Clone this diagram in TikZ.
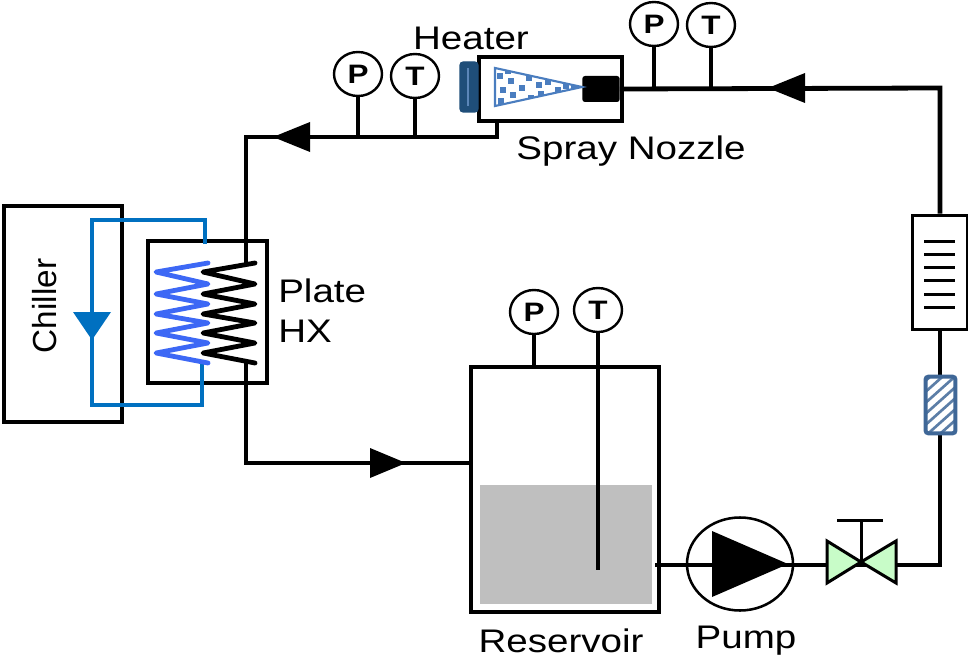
\documentclass[tikz,border=0pt]{standalone}
\usepackage{fontspec}
\setmainfont[FakeStretch=1.18]{Liberation Sans}
\newfontfamily\chillerfont{Liberation Sans}
\usetikzlibrary{arrows,shapes.geometric}
\definecolor{loopblue}{HTML}{0070C0}
\definecolor{coilblue}{HTML}{3D68F5}
\definecolor{heaterblue}{HTML}{1F4E79}
\definecolor{heaterline}{HTML}{5B86B8}
\definecolor{sprayblue}{HTML}{4A7DBF}
\definecolor{filterblue}{HTML}{3F6797}
\definecolor{valvegreen}{HTML}{C8FCC8}
\definecolor{watergray}{HTML}{BFBFBF}
\tikzset{
  pipe/.style={line width=3.6pt},
  coil/.style={line width=3.6pt,line join=round,line cap=round},
  box/.style={draw,shape=rectangle,line width=3.5pt,inner sep=0},
  gauge/.style={draw,ellipse,line width=1.8pt,fill=white,inner sep=0,minimum width=36pt,minimum height=33pt,font=\fontsize{20}{20}\selectfont\bfseries},
  label/.style={font=\fontsize{24.5}{30}\selectfont,inner sep=0},
}
\begin{document}
\begin{tikzpicture}[x=0.75pt,y=-0.75pt]
  \useasboundingbox (0,0) rectangle (968,660);

  \coordinate (c1) at (246,137);
  \coordinate (c2) at (497,137);
  \coordinate (c3) at (246,463);
  \coordinate (c4) at (472,463);
  \coordinate (c5) at (940,88);
  \coordinate (c6) at (940,565);
  \coordinate (c7) at (655,565);
  \coordinate (c8) at (246,263);
  \coordinate (c9) at (246,363);
  \coordinate (tipT) at (598,570);

  \node[shape=rectangle,fill=watergray,inner sep=0,minimum width=129pt,minimum height=89.25pt] (water) at (566,544.5) {};

  \node[box,minimum width=88.5pt,minimum height=162pt] (chiller) at (63,314) {};
  \node[box,minimum width=89.25pt,minimum height=106.5pt] (hx) at (207.5,312) {};
  \node[box,minimum width=107.25pt,minimum height=48pt] (chamber) at (550.5,89) {};
  \node[box,minimum width=141pt,minimum height=183.75pt] (tank) at (565,489.5) {};
  \node[box,line width=2.25pt,minimum width=41.25pt,minimum height=85.5pt] (flow) at (939.5,272) {};
  \node[shape=rectangle,inner sep=0,minimum width=22pt,minimum height=42pt] (filter) at (940.5,405) {};
  \node[draw=heaterblue,fill=heaterblue,shape=rectangle,rounded corners=2.5pt,line width=1pt,inner sep=0,minimum width=13.5pt,minimum height=37.5pt] (heater) at (469,87) {};
  \node[draw,ellipse,line width=1.9pt,inner sep=0,minimum width=79.5pt,minimum height=69.75pt] (pump) at (740,564) {};
  \node[fill,shape=rectangle,rounded corners=2pt,inner sep=0,minimum width=28pt,minimum height=19.5pt] (nozzle) at (601,89) {};

  \node[gauge] (P1) at (358,74) {P};
  \node[gauge] (T1) at (415,76) {T};
  \node[gauge] (P2) at (654,24) {P};
  \node[gauge] (T2) at (711,25) {T};
  \node[gauge] (P3) at (534,312) {P};
  \node[gauge] (T3) at (598,310) {T};
  \coordinate (valve) at (861,562);

  \draw[pipe] (c8) -- (c1) -- (c2) -- (chamber.south -| c2);
  \draw[pipe] (c9) -- (c3) -- (c4);
  \draw[pipe] (nozzle.east) -- (c5) -- (flow.north -| c5);
  \draw[pipe] (flow.south -| c5) -- (filter.north -| c5);
  \draw[pipe] (filter.south -| c5) -- (c6) -- (c7);
  \draw[pipe] (P1) -- (P1 |- c1);
  \draw[pipe] (T1) -- (T1 |- c1);
  \draw[pipe] (P2) -- (P2 |- c5);
  \draw[pipe] (T2) -- (T2 |- c5);
  \draw[pipe] (P3) -- (P3 |- tank.north);
  \draw[pipe] (T3) -- (tipT);

  \fill (310,122) -- (273,137) -- (310,152) -- cycle;
  \fill (805,73) -- (768,88) -- (805,103) -- cycle;
  \fill (370,448) -- (406,463) -- (370,478) -- cycle;
  \fill (712,531) -- (788,564) -- (712,597) -- cycle;

  \draw[line width=2.25pt,fill=valvegreen,line join=miter] (827,541) -- (valve) -- (827,583) -- cycle;
  \draw[line width=2.25pt,fill=valvegreen,line join=miter] (896,541) -- (valve) -- (896,583) -- cycle;
  \draw[line width=2.25pt] (valve) -- (861,520);
  \draw[line width=2.25pt] (837,520) -- (883,520);

  \foreach \y in {241,254,267,280,294,307}
    \draw[line width=2.25pt] (924,\y) -- (955,\y);

  \draw[heaterline,line width=1.2pt] (468,68) -- (468,106);

  \fill[white] (filter.south west) rectangle (filter.north east);
  \begin{scope}
    \clip (filter.south west) rectangle (filter.north east);
    \foreach \y in {384,395,406,417,428,439,450,461}
      \draw[filterblue!85,line width=2pt] (922,\y) -- (960,\y-34);
  \end{scope}
  \draw[filterblue,line width=3pt,rounded corners=2pt] (filter.south west) rectangle (filter.north east);

  \begin{scope}
    \clip (495,68) -- (582,87) -- (495,106) -- cycle;
    \foreach \a/\b in {500/76,503/90,501/101,511/81,513/95,520/71,522/88,529/78,531/98,539/85,541/94,548/82,552/100,558/90,566/86,574/88,508/71}
      \fill[sprayblue] (\a-3,\b-3) rectangle (\a+3,\b+3);
  \end{scope}
  \draw[sprayblue,line width=1.6pt] (495,68) -- (582,87) -- (495,106) -- cycle;

  \draw[loopblue,line width=3.3pt] (205,244) -- (205,220) -- (92,220) -- (92,405) -- (202,405) -- (202,364);
  \fill[loopblue] (73,312) -- (111,312) -- (92,340) -- cycle;

  \draw[coilblue,coil] (208,263) -- (156,272) -- (208,284) -- (156,294) -- (208,304) -- (156,314)
     -- (208,323) -- (156,333) -- (208,343) -- (156,353) -- (208,363);
  \draw[coil] (255,263) -- (203,272) -- (255,284) -- (203,294) -- (255,304) -- (203,314)
     -- (255,323) -- (203,333) -- (255,343) -- (203,353) -- (255,363);

  \node[label] (heaterlabel) at (471,38) {Heater};
  \node[label] (spraylabel) at (631,151) {Spray Nozzle};
  \node[label,align=left,anchor=west] (hxlabel) at (278,311) {Plate\\HX};
  \node[label] (tanklabel) at (561,641) {Reservoir};
  \node[label] (pumplabel) at (746,641) {Pump};
  \node[label,font=\fontsize{25}{30}\selectfont\chillerfont,rotate=90] (chillerlabel) at (45,306) {Chiller};
\end{tikzpicture}
\end{document}
